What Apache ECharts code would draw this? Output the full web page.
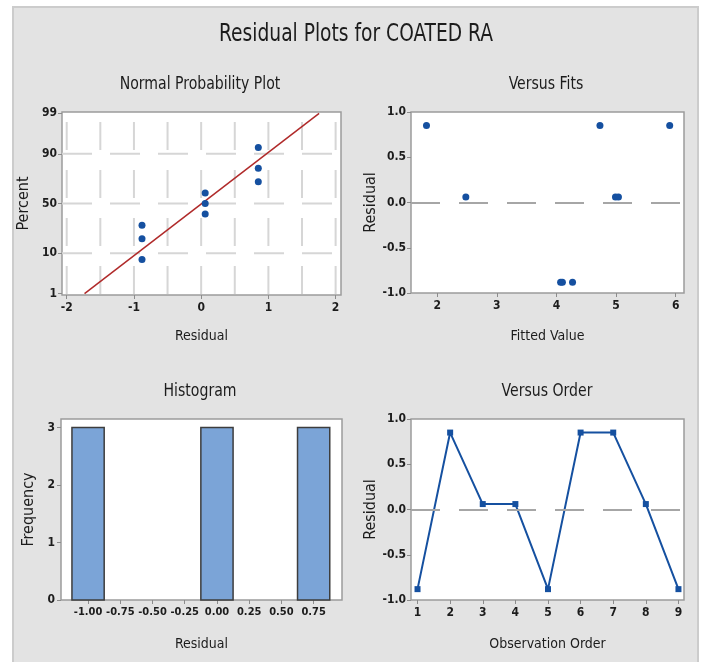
<!DOCTYPE html>
<html>
<head>
<meta charset="utf-8">
<script src="https://cdn.jsdelivr.net/npm/echarts@6/dist/echarts.min.js"></script>
<style>
  html, body { margin: 0; padding: 0; background: #ffffff; }
  #chart { width: 705px; height: 662px; }
</style>
</head>
<body>
<div id="chart"></div>
<script>
// Residuals in observation order
const residuals = [-0.88, 0.85, 0.06, 0.06, -0.88, 0.85, 0.85, 0.06, -0.88];
// Fitted values for the same observations
const fittedValues = [4.07, 1.82, 2.48, 4.99, 4.27, 4.73, 5.90, 5.04, 4.10];
const observationOrder = [1, 2, 3, 4, 5, 6, 7, 8, 9];
// Normal plotting positions (percent) of the sorted residuals
const normalPercents = [7.4, 18.1, 28.7, 39.4, 50.0, 60.6, 71.3, 81.9, 92.6];
// Fitted normal reference line
const fitMean = 0.01;
const fitSd = 0.75;
const fitPercentEnds = [1, 99];
// Histogram bins
const histBinCenters = [-1.00, -0.75, -0.50, -0.25, 0.00, 0.25, 0.50, 0.75];
const histCounts = [3, 0, 0, 0, 3, 0, 0, 3];
const histBinWidth = 0.25;
// Tick labels
const percentTicks = [1, 10, 50, 90, 99];
const percentGrid = [10, 50, 90];
const normalResidualTicks = [-2, -1, 0, 1, 2];
const normalResidualGrid = [-2, -1.5, -1, -0.5, 0, 0.5, 1, 1.5, 2];
const fittedTicks = [2, 3, 4, 5, 6];
const histTicks = [-1.00, -0.75, -0.50, -0.25, 0.00, 0.25, 0.50, 0.75];
const histFreqTicks = [0, 1, 2, 3];

const FONT = '"DejaVu Sans Condensed","Liberation Sans",Arial,sans-serif';
const BLUE = '#1550a0';
const TXT = '#1c1c1c';

// Inverse standard normal CDF (Acklam), used as the probability-axis scale
function probit(p) {
  const a = [-39.69683028665376, 220.9460984245205, -275.9285104469687, 138.3577518672690, -30.66479806614716, 2.506628277459239];
  const b = [-54.47609879822406, 161.5858368580409, -155.6989798598866, 66.80131188771972, -13.28068155288572];
  const c = [-0.007784894002430293, -0.3223964580411365, -2.400758277161838, -2.549732539343734, 4.374664141464968, 2.938163982698783];
  const d = [0.007784695709041462, 0.3224671290700398, 2.445134137142996, 3.754408661907416];
  const pl = 0.02425, ph = 1 - pl;
  let q, r;
  if (p < pl) {
    q = Math.sqrt(-2 * Math.log(p));
    return (((((c[0]*q+c[1])*q+c[2])*q+c[3])*q+c[4])*q+c[5]) / ((((d[0]*q+d[1])*q+d[2])*q+d[3])*q+1);
  }
  if (p <= ph) {
    q = p - 0.5; r = q * q;
    return (((((a[0]*r+a[1])*r+a[2])*r+a[3])*r+a[4])*r+a[5])*q / (((((b[0]*r+b[1])*r+b[2])*r+b[3])*r+b[4])*r+1);
  }
  q = Math.sqrt(-2 * Math.log(1 - p));
  return -(((((c[0]*q+c[1])*q+c[2])*q+c[3])*q+c[4])*q+c[5]) / ((((d[0]*q+d[1])*q+d[2])*q+d[3])*q+1);
}

const sortedResiduals = residuals.slice().sort((x, y) => x - y);
const normalPoints = sortedResiduals.map((r, i) => [r, probit(normalPercents[i] / 100)]);
const fitLinePoints = fitPercentEnds.map(p => {
  const z = probit(p / 100);
  return [fitMean + fitSd * z, z];
});

const gridStyle = { show: true, backgroundColor: '#ffffff', borderColor: '#9c9c9c', borderWidth: 1.5 };
const tickStyle = { show: true, inside: false, length: 4, lineStyle: { color: '#8c8c8c', width: 1 } };
const labelStyle = { color: TXT, fontFamily: FONT, fontSize: 12, fontWeight: 'bold' };
const nameStyle = (size) => ({ color: TXT, fontFamily: FONT, fontSize: size });

function valueAxis(gridIndex, opts) {
  return Object.assign({
    type: 'value',
    gridIndex: gridIndex,
    axisLine: { show: false, onZero: false },
    axisTick: tickStyle,
    splitLine: { show: false },
    nameLocation: 'middle'
  }, opts);
}

// Condensed heading text
function heading(text, x, y, size, squeeze) {
  return {
    type: 'text', x: x, y: y, scaleX: squeeze, z: 10,
    style: { text: text, font: size + 'px ' + FONT, fill: TXT, align: 'center', verticalAlign: 'middle' }
  };
}

const zeroLine = {
  silent: true,
  symbol: ['none', 'none'],
  label: { show: false },
  lineStyle: { color: '#a6a6a6', width: 2, type: [29, 19] },
  data: [{ yAxis: 0 }]
};

const chart = echarts.init(document.getElementById('chart'), null, { renderer: 'canvas' });

chart.setOption({
  backgroundColor: '#ffffff',
  animation: false,
  graphic: [
    {
      type: 'rect',
      z: -10,
      shape: { x: 13, y: 7, width: 685, height: 662 },
      style: { fill: '#e3e3e3', stroke: '#cccccc', lineWidth: 2 }
    },
    heading('Residual Plots for COATED RA', 356, 34, 25, 0.83),
    heading('Normal Probability Plot', 200, 85, 17, 0.92),
    heading('Versus Fits', 546, 85, 17, 0.92),
    heading('Histogram', 200, 392, 17, 0.92),
    heading('Versus Order', 547, 392, 17, 0.92)
  ],
  grid: [
    Object.assign({ left: 62, top: 112, width: 279, height: 183 }, gridStyle),
    Object.assign({ left: 411, top: 112, width: 273, height: 181 }, gridStyle),
    Object.assign({ left: 61, top: 419, width: 281, height: 181 }, gridStyle),
    Object.assign({ left: 411, top: 419, width: 273, height: 181 }, gridStyle)
  ],
  xAxis: [
    valueAxis(0, {
      min: -2.07, max: 2.08,
      name: 'Residual', nameGap: 34, nameTextStyle: nameStyle(14),
      axisTick: Object.assign({ customValues: normalResidualTicks }, tickStyle),
      axisLabel: Object.assign({ customValues: normalResidualTicks, margin: 7 }, labelStyle)
    }),
    valueAxis(1, {
      min: 1.56, max: 6.14,
      name: 'Fitted Value', nameGap: 36, nameTextStyle: nameStyle(14),
      axisTick: Object.assign({ customValues: fittedTicks }, tickStyle),
      axisLabel: Object.assign({ customValues: fittedTicks, margin: 7 }, labelStyle)
    }),
    valueAxis(2, {
      min: -1.21, max: 0.97,
      name: 'Residual', nameGap: 37, nameTextStyle: nameStyle(14),
      axisTick: Object.assign({ customValues: histTicks }, tickStyle),
      axisLabel: Object.assign({ customValues: histTicks, margin: 7,
        formatter: v => v.toFixed(2) }, labelStyle, { fontSize: 11 })
    }),
    valueAxis(3, {
      min: 0.8, max: 9.17,
      name: 'Observation Order', nameGap: 37, nameTextStyle: nameStyle(14),
      axisTick: Object.assign({ customValues: observationOrder }, tickStyle),
      axisLabel: Object.assign({ customValues: observationOrder, margin: 7 }, labelStyle)
    })
  ],
  yAxis: [
    valueAxis(0, {
      min: -2.36, max: 2.36,
      name: 'Percent', nameGap: 30, nameTextStyle: nameStyle(16),
      axisTick: Object.assign({ customValues: percentTicks.map(p => probit(p / 100)) }, tickStyle),
      axisLabel: Object.assign({
        customValues: percentTicks.map(p => probit(p / 100)), margin: 5,
        formatter: v => {
          const hit = percentTicks.find(p => Math.abs(probit(p / 100) - v) < 1e-6);
          return hit === undefined ? '' : String(hit);
        }
      }, labelStyle)
    }),
    valueAxis(1, {
      min: -1, max: 1, interval: 0.5,
      name: 'Residual', nameGap: 32, nameTextStyle: nameStyle(16),
      axisLabel: Object.assign({ margin: 5, formatter: v => v.toFixed(1) }, labelStyle)
    }),
    valueAxis(2, {
      min: 0, max: 3.15,
      name: 'Frequency', nameGap: 24, nameTextStyle: nameStyle(16),
      axisTick: Object.assign({ customValues: histFreqTicks }, tickStyle),
      axisLabel: Object.assign({ customValues: histFreqTicks, margin: 6 }, labelStyle)
    }),
    valueAxis(3, {
      min: -1, max: 1, interval: 0.5,
      name: 'Residual', nameGap: 32, nameTextStyle: nameStyle(16),
      axisLabel: Object.assign({ margin: 5, formatter: v => v.toFixed(1) }, labelStyle)
    })
  ],
  series: [
    // Dashed reference grid of the probability plot
    {
      type: 'custom',
      xAxisIndex: 0, yAxisIndex: 0,
      silent: true, z: 1,
      data: [[0, 0]],
      renderItem: (params, api) => {
        const children = [];
        const lo = api.coord([-2.07, -2.36]);
        const hi = api.coord([2.08, 2.36]);
        normalResidualGrid.forEach(x => {
          const px = api.coord([x, 0])[0];
          children.push({
            type: 'line',
            shape: { x1: px, y1: hi[1], x2: px, y2: lo[1] },
            style: { stroke: '#d6d6d6', lineWidth: 2, lineDash: [28, 20], lineDashOffset: 38 }
          });
        });
        percentGrid.forEach(p => {
          const py = api.coord([0, probit(p / 100)])[1];
          children.push({
            type: 'line',
            shape: { x1: lo[0], y1: py, x2: hi[0], y2: py },
            style: { stroke: '#d6d6d6', lineWidth: 2, lineDash: [30, 18], lineDashOffset: 0 }
          });
        });
        return { type: 'group', children: children };
      }
    },
    {
      type: 'line',
      xAxisIndex: 0, yAxisIndex: 0,
      data: fitLinePoints,
      symbol: 'none', z: 3,
      lineStyle: { color: '#b02a2a', width: 1.5 }
    },
    {
      type: 'scatter',
      xAxisIndex: 0, yAxisIndex: 0,
      data: normalPoints,
      symbol: 'circle', symbolSize: 7, z: 4,
      itemStyle: { color: BLUE, opacity: 1 }
    },
    {
      type: 'scatter',
      xAxisIndex: 1, yAxisIndex: 1,
      data: fittedValues.map((f, i) => [f, residuals[i]]),
      symbol: 'circle', symbolSize: 7, z: 4,
      itemStyle: { color: BLUE, opacity: 1 },
      markLine: zeroLine
    },
    {
      type: 'custom',
      xAxisIndex: 2, yAxisIndex: 2,
      data: histBinCenters.map((c, i) => [c, histCounts[i]]),
      renderItem: (params, api) => {
        const c = api.value(0), n = api.value(1);
        if (!n) return null;
        const tl = api.coord([c - histBinWidth / 2, n]);
        const br = api.coord([c + histBinWidth / 2, 0]);
        return {
          type: 'rect',
          shape: { x: tl[0], y: tl[1], width: br[0] - tl[0], height: br[1] - tl[1] },
          style: { fill: '#7ba4d7', stroke: '#3d3d3d', lineWidth: 1.5 }
        };
      }
    },
    {
      type: 'line',
      xAxisIndex: 3, yAxisIndex: 3,
      data: observationOrder.map((o, i) => [o, residuals[i]]),
      symbol: 'rect', symbolSize: 6, z: 4,
      lineStyle: { color: BLUE, width: 2 },
      itemStyle: { color: BLUE, opacity: 1 },
      markLine: zeroLine
    }
  ]
});
</script>
</body>
</html>
